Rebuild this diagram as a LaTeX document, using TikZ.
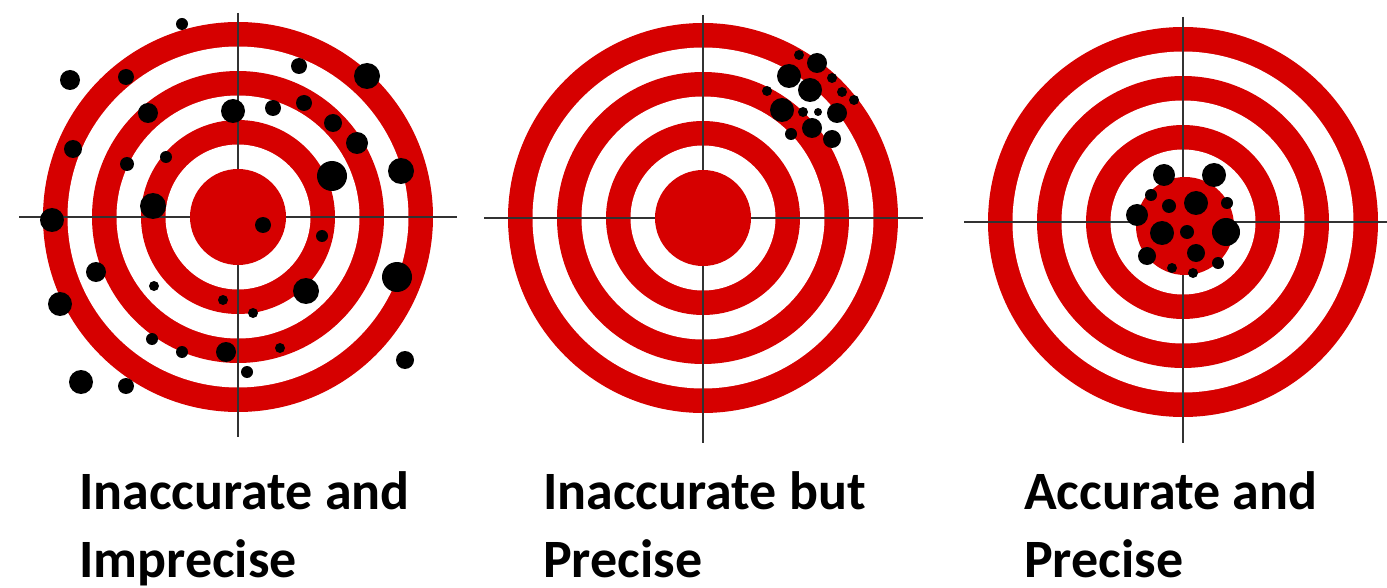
\documentclass[tikz,border=0pt]{standalone}
\usepackage{fontspec}
\setmainfont{Carlito}
\definecolor{tred}{RGB}{214,0,0}
\definecolor{xline}{RGB}{50,50,50}
\tikzset{
  ring/.style={fill=tred},
  gap/.style={fill=white},
  cross/.style={draw=xline, line width=1.8pt},
  hole/.style={fill=black},
  caption/.style={anchor=base west, inner sep=0pt, font=\bfseries\fontsize{54}{70}\selectfont}
}
\newcommand{\targetrings}[2]{%
  \fill[ring] (#1,#2) circle (195);
  \fill[gap]  (#1,#2) circle (170.5);
  \fill[ring] (#1,#2) circle (146);
  \fill[gap]  (#1,#2) circle (121.5);
  \fill[ring] (#1,#2) circle (97);
  \fill[gap]  (#1,#2) circle (72.5);
}
\begin{document}
\begin{tikzpicture}[x=1pt,y=-1pt]
\useasboundingbox (0,0) rectangle (1387,588);
\fill[white] (0,0) rectangle (1387,588);

% ---------- Target 1 ----------
\targetrings{238}{217}
\coordinate (a1l) at (19,217); \coordinate (a1r) at (457,217);
\coordinate (a1t) at (238,13); \coordinate (a1b) at (238,437);
\draw[cross] (a1l) -- (a1r);
\draw[cross] (a1t) -- (a1b);
\fill[ring] (238,217) circle (48);
\foreach \x/\y/\r in {182/24/6, 70/80/10, 126/77/8, 299/66/8, 367/76/13,
  148/113/10, 233/111/12, 273/108/8, 304/103/8, 333/123/9, 357/143/11,
  73/149/9, 127/164/7, 166/157/6, 332/176/15, 401/171/13, 153/206/13,
  52/220/12, 263/225/8, 322/236/6, 96/272/10, 397/277/15, 306/291/13,
  154/286/5, 60/304/12, 223/300/5, 253/313/5, 152/339/6, 182/352/6,
  226/352/10, 280/348/5, 247/372/6, 405/360/9, 81/382/12, 126/386/8}
  \fill[hole] (\x,\y) circle (\r);

% ---------- Target 2 ----------
\targetrings{703}{218}
\coordinate (a2l) at (484,218); \coordinate (a2r) at (923,218);
\coordinate (a2t) at (703,15); \coordinate (a2b) at (703,443);
\draw[cross] (a2l) -- (a2r);
\draw[cross] (a2t) -- (a2b);
\fill[ring] (703,218) circle (48);
\foreach \x/\y/\r in {799/55/5, 817/63/10, 789/76/12, 832/78/5, 810/90/12,
  767/91/5, 842/92/5, 854/100/5, 782/110/12, 803/112/5, 818/112/4,
  837/113/10, 812/128/10, 791/134/6, 832/139/9}
  \fill[hole] (\x,\y) circle (\r);

% ---------- Target 3 ----------
\targetrings{1183}{222}
\coordinate (a3l) at (964,222); \coordinate (a3r) at (1387,222);
\coordinate (a3t) at (1183,17); \coordinate (a3b) at (1183,443);
\draw[cross] (a3l) -- (a3r);
\draw[cross] (a3t) -- (a3b);
\fill[ring] (1185,226) circle (49);
\foreach \x/\y/\r in {1164/175/11, 1214/175/12, 1151/195/6, 1169/206/7,
  1196/203/12, 1227/203/6, 1137/215/11, 1162/233/12, 1187/232/7,
  1226/232/14, 1147/256/9, 1196/253/9, 1218/263/6, 1172/268/5, 1193/273/5}
  \fill[hole] (\x,\y) circle (\r);

% ---------- Captions ----------
\node[caption] (c1a) at (79,509) {Inaccurate and};
\node[caption] (c1b) at (79,577) {Imprecise};
\node[caption] (c2a) at (543,509) {Inaccurate but};
\node[caption] (c2b) at (543,577) {Precise};
\node[caption] (c3a) at (1024,509) {Accurate and};
\node[caption] (c3b) at (1024,577) {Precise};
\end{tikzpicture}
\end{document}
